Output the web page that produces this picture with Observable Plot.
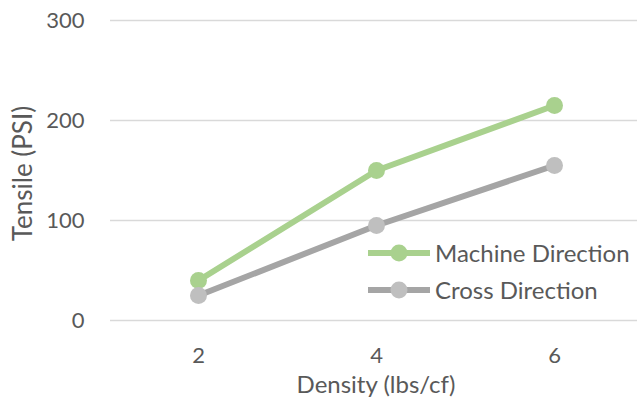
<!DOCTYPE html>
<html><head><meta charset="utf-8">
<script src="https://cdn.jsdelivr.net/npm/d3@7"></script>
<script src="https://cdn.jsdelivr.net/npm/@observablehq/plot@0.6"></script>
<style>
body{margin:0;background:#fff;}
#wrap{position:relative;width:637px;height:408px;font-family:Lato,sans-serif;color:#595959;}
#legend{position:absolute;left:368px;top:234px;}
.row{display:flex;align-items:center;height:37px;}
.row span{margin-left:5px;font-size:24px;white-space:nowrap;}
</style>
</head><body><div id="wrap"></div>
<script>
const densities = [2, 4, 6];
const machineDirection = [40, 150, 215];
const crossDirection = [25, 95, 155];
const yTicks = [0, 100, 200, 300];
const seriesNames = ["Machine Direction", "Cross Direction"];
const lineColors = ["#a9d18e", "#a5a5a5"];
const dotColors = ["#a9d18e", "#bfbfbf"];
const xTitle = "Density (lbs/cf)";
const yTitle = "Tensile (PSI)";

const seriesValues = [machineDirection, crossDirection];
const data = seriesNames.flatMap((s, i) => densities.map((d, j) => ({series: s, density: d, value: seriesValues[i][j]})));

const marks = [
  Plot.ruleY(yTicks, {stroke: "#d9d9d9", strokeWidth: 1.5}),
  Plot.axisY({ticks: yTicks, tickSize: 0, tickPadding: 26, label: null, fontSize: 22, fill: "#595959"}),
  Plot.axisX({tickSize: 0, tickPadding: 27, label: null, fontSize: 22, fill: "#595959"}),
  Plot.text([yTitle], {frameAnchor: "left", dx: -87, dy: 3, rotate: -90, fontSize: 26, fill: "#595959", textAnchor: "middle"}),
  Plot.text([xTitle], {frameAnchor: "bottom", dy: 72, dx: 2, fontSize: 24, fill: "#595959", textAnchor: "middle"})
];
seriesNames.forEach((s, i) => {
  const rows = data.filter(d => d.series === s);
  marks.push(Plot.lineY(rows, {x: "density", y: "value", stroke: lineColors[i], strokeWidth: 6}));
  marks.push(Plot.dot(rows, {x: "density", y: "value", fill: dotColors[i], r: 8.5}));
});

const chart = Plot.plot({
  width: 637, height: 408,
  marginLeft: 110, marginRight: 0, marginTop: 20, marginBottom: 88,
  style: {fontFamily: "Lato, sans-serif", background: "white", color: "#595959"},
  x: {type: "point", domain: densities, range: [198, 554], padding: 0},
  y: {domain: [0, 300]},
  marks
});
const wrap = document.getElementById("wrap");
wrap.appendChild(chart);

const legend = document.createElement("div");
legend.id = "legend";
seriesNames.forEach((s, i) => {
  const row = document.createElement("div");
  row.className = "row";
  row.innerHTML = `<svg width="62" height="20"><line x1="0" y1="10" x2="62" y2="10" stroke="${lineColors[i]}" stroke-width="6" stroke-linecap="round"/><circle cx="31" cy="10" r="8.5" fill="${dotColors[i]}"/></svg><span>${s}</span>`;
  legend.appendChild(row);
});
wrap.appendChild(legend);
</script>
</body></html>
